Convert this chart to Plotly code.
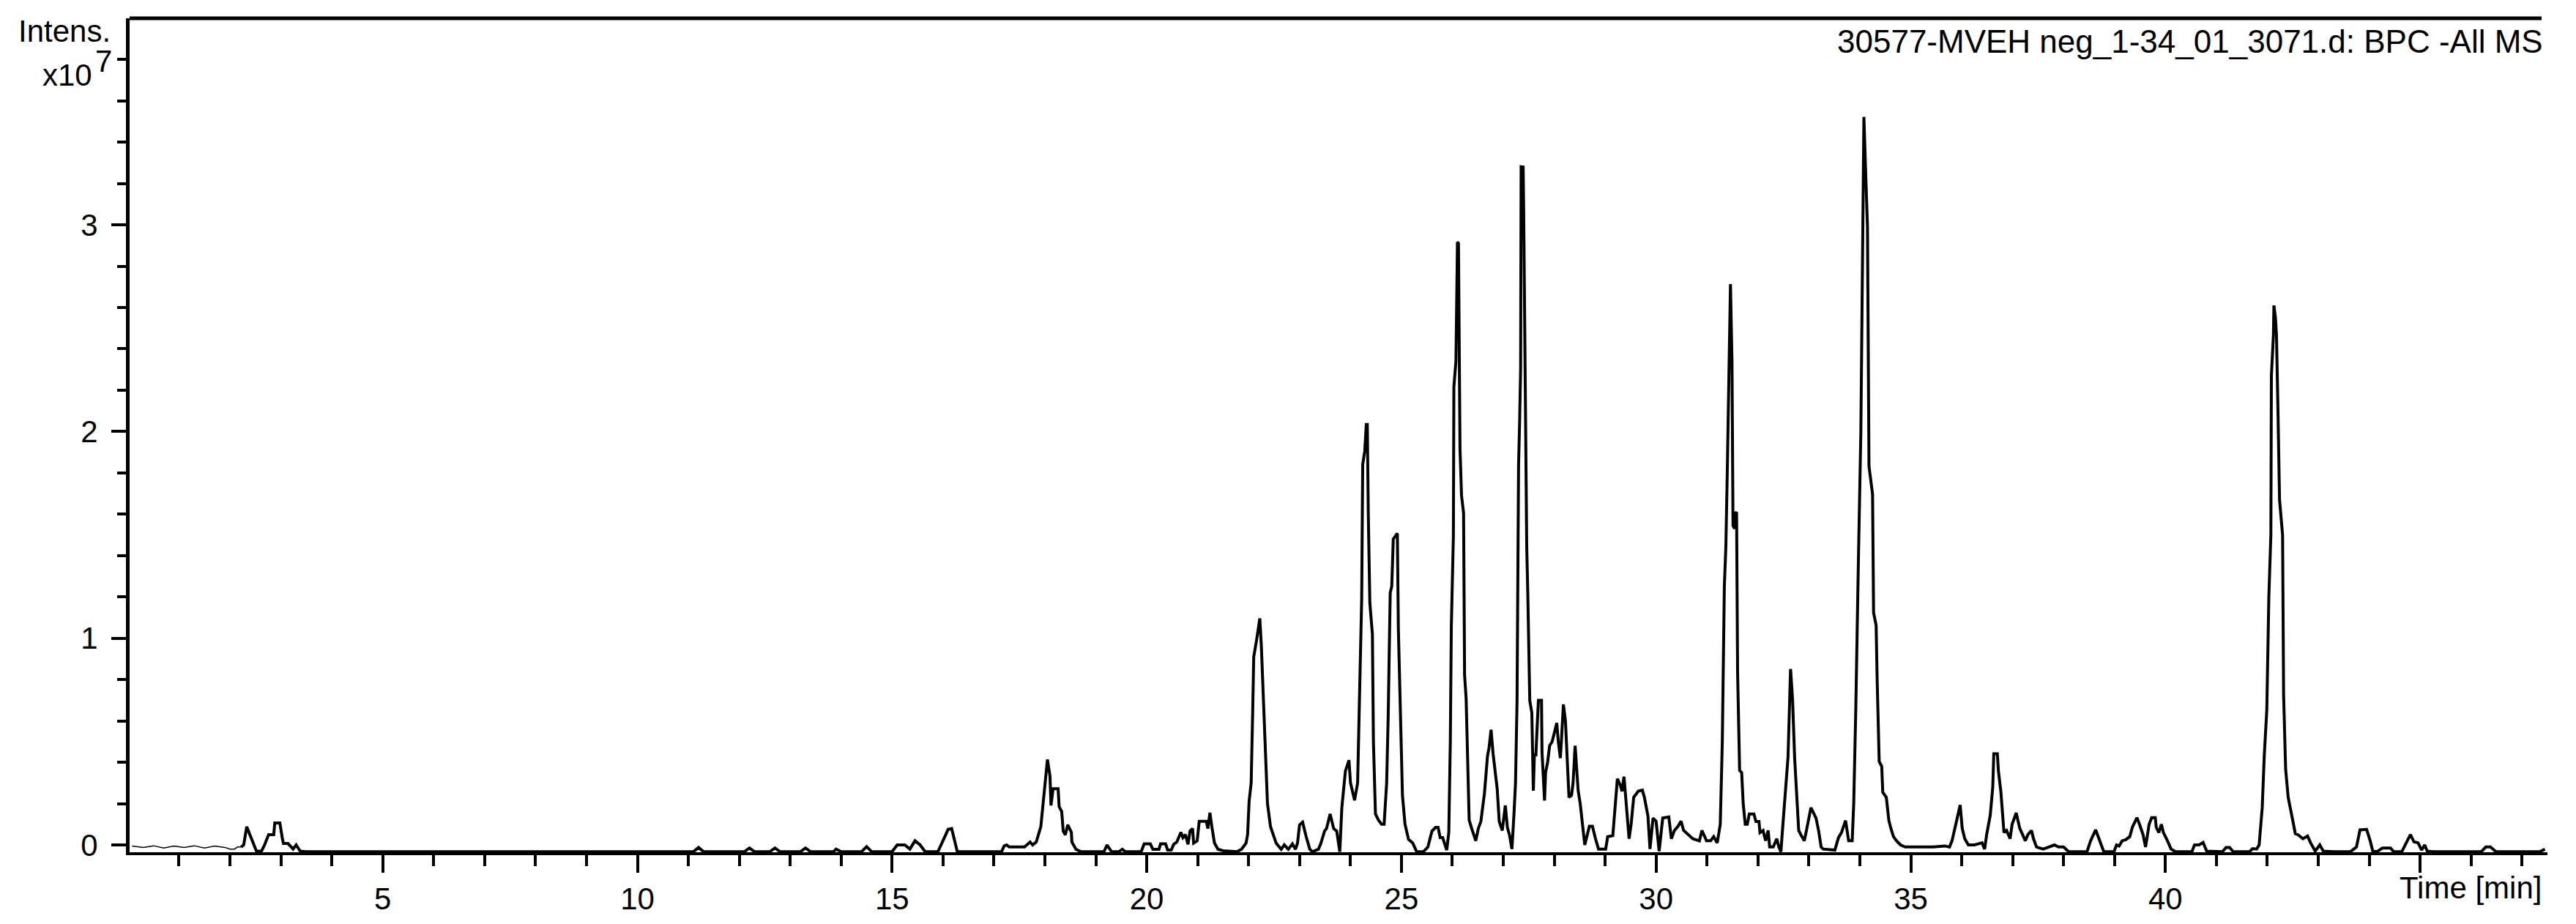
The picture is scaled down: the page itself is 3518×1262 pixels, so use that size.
import plotly.graph_objects as go

# Base peak chromatogram, intensity in units of 1e7, time in minutes
bpc_0_17 = [
    (0.08, -0.005), (0.3, -0.012), (0.5, -0.004), (0.7, -0.015), (0.9, -0.005), (1.1, -0.012),
    (1.3, -0.004), (1.5, -0.015), (1.7, -0.005), (1.9, -0.012), (2.0, -0.02), (2.09, -0.02),
    (2.15, -0.01), (2.22, -0.01), (2.27, 0.0), (2.33, 0.088), (2.42, 0.03), (2.52, -0.03),
    (2.62, -0.03), (2.68, 0.0), (2.76, 0.05), (2.86, 0.05), (2.88, 0.106), (2.98, 0.106),
    (3.03, 0.03), (3.05, 0.007), (3.14, 0.007), (3.24, -0.02), (3.30, 0.0), (3.38, -0.03),
    (3.5, -0.033), (11.1, -0.033), (11.2, -0.012), (11.3, -0.033), (12.1, -0.033), (12.2, -0.015),
    (12.3, -0.033), (12.6, -0.033), (12.7, -0.015), (12.8, -0.033), (13.2, -0.033), (13.3, -0.015),
    (13.4, -0.033), (13.85, -0.033), (13.9, -0.02), (14.0, -0.033), (14.4, -0.033), (14.5, -0.008),
    (14.6, -0.033), (15.0, -0.033), (15.1, 0.0), (15.25, 0.0), (15.35, -0.02), (15.45, 0.02),
    (15.55, 0.0), (15.65, -0.033), (15.9, -0.033), (16.0, 0.02), (16.1, 0.075), (16.17, 0.079),
    (16.28, -0.033), (17.15, -0.033),
]
bpc_17_26 = [
    (17.2, -0.005), (17.25, 0.0), (17.3, -0.01), (17.6, -0.01), (17.71, 0.014), (17.76, 0.0),
    (17.83, 0.014), (17.92, 0.088), (17.99, 0.274), (18.05, 0.413), (18.10, 0.333), (18.12, 0.191),
    (18.16, 0.272), (18.26, 0.272), (18.28, 0.185), (18.33, 0.162), (18.36, 0.067), (18.40, 0.049),
    (18.45, 0.097), (18.52, 0.061), (18.53, 0.014), (18.61, -0.021), (18.71, -0.033), (19.16, -0.033),
    (19.22, 0.0), (19.31, -0.033), (19.45, -0.033), (19.52, -0.021), (19.58, -0.033), (19.89, -0.033),
    (19.95, 0.005), (20.07, 0.005), (20.12, -0.021), (20.24, -0.021), (20.27, 0.005), (20.37, 0.005),
    (20.41, -0.025), (20.48, -0.025), (20.53, 0.003), (20.59, 0.014), (20.67, 0.061), (20.71, 0.035),
    (20.76, 0.05), (20.81, 0.003), (20.85, 0.067), (20.90, 0.079), (20.92, 0.009), (20.99, 0.02),
    (21.03, 0.114), (21.17, 0.114), (21.20, 0.079), (21.24, 0.156), (21.28, 0.085), (21.33, 0.009),
    (21.40, -0.021), (21.5, -0.028), (21.77, -0.033), (21.86, -0.021), (21.95, 0.009), (21.98, 0.05),
    (22.01, 0.212), (22.05, 0.30), (22.08, 0.648), (22.10, 0.909), (22.16, 0.997), (22.22, 1.096),
    (22.25, 0.96), (22.29, 0.71), (22.32, 0.437), (22.37, 0.2), (22.43, 0.088), (22.49, 0.05),
    (22.54, 0.009), (22.64, -0.021), (22.70, 0.0), (22.78, -0.021), (22.86, 0.005), (22.92, -0.021),
    (22.96, 0.009), (23.0, 0.097), (23.06, 0.11), (23.13, 0.04), (23.2, -0.02), (23.25, -0.033),
    (23.37, -0.021), (23.42, 0.009), (23.49, 0.067), (23.53, 0.079), (23.60, 0.15), (23.67, 0.079),
    (23.73, 0.067), (23.79, -0.033), (23.83, 0.18), (23.90, 0.357), (23.97, 0.41), (24.0, 0.30),
    (24.08, 0.216), (24.14, 0.30), (24.18, 0.82), (24.22, 1.195), (24.24, 1.84), (24.28, 1.905),
    (24.31, 2.034), (24.33, 2.034), (24.35, 1.594), (24.38, 1.17), (24.43, 1.02), (24.45, 0.50),
    (24.49, 0.15), (24.55, 0.12), (24.61, 0.10), (24.66, 0.10), (24.71, 0.30), (24.74, 0.62),
    (24.78, 1.22), (24.81, 1.25), (24.84, 1.48), (24.92, 1.507), (24.94, 1.046), (24.99, 0.60),
    (25.02, 0.24), (25.07, 0.10), (25.14, 0.027), (25.22, 0.01), (25.3, -0.033), (25.43, -0.033),
    (25.52, -0.01), (25.60, 0.067), (25.67, 0.085), (25.72, 0.085), (25.76, 0.035), (25.81, 0.035),
    (25.85, 0.0), (25.89, -0.025), (25.93, 0.06), (25.96, 0.50),
]
bpc_26_33 = [
    (25.98, 1.06), (26.02, 1.495), (26.03, 2.216), (26.07, 2.34), (26.10, 2.917), (26.12, 2.91),
    (26.15, 1.917), (26.18, 1.69), (26.22, 1.606), (26.24, 0.82), (26.27, 0.71), (26.30, 0.38),
    (26.33, 0.12), (26.38, 0.079), (26.46, 0.02), (26.51, 0.08), (26.56, 0.114), (26.63, 0.25),
    (26.69, 0.43), (26.72, 0.47), (26.76, 0.557), (26.80, 0.44), (26.84, 0.36), (26.88, 0.272),
    (26.92, 0.114), (26.98, 0.07), (27.04, 0.191), (27.08, 0.085), (27.12, 0.05), (27.17, -0.02),
    (27.21, 0.15), (27.24, 0.30), (27.27, 0.698), (27.30, 1.84), (27.32, 2.04), (27.34, 2.3),
    (27.35, 3.281), (27.39, 3.28), (27.40, 3.075), (27.42, 2.39), (27.44, 2.09), (27.46, 1.445),
    (27.48, 1.23), (27.52, 0.698), (27.56, 0.64), (27.59, 0.262), (27.61, 0.436), (27.64, 0.436),
    (27.67, 0.60), (27.69, 0.70), (27.75, 0.70), (27.76, 0.45), (27.81, 0.215), (27.83, 0.35),
    (27.87, 0.40), (27.91, 0.48), (27.96, 0.50), (28.0, 0.536), (28.05, 0.59), (28.08, 0.50),
    (28.12, 0.42), (28.14, 0.50), (28.18, 0.68), (28.22, 0.60), (28.26, 0.42), (28.29, 0.23),
    (28.34, 0.24), (28.37, 0.30), (28.41, 0.48), (28.47, 0.262), (28.51, 0.2), (28.55, 0.10),
    (28.60, 0.0), (28.69, 0.09), (28.75, 0.09), (28.81, 0.03), (28.87, -0.02), (29.01, -0.02),
    (29.05, 0.04), (29.15, 0.045), (29.2, 0.19), (29.24, 0.32), (29.30, 0.287), (29.33, 0.26),
    (29.37, 0.33), (29.42, 0.157), (29.47, 0.03), (29.51, 0.1), (29.56, 0.23), (29.65, 0.26),
    (29.73, 0.265), (29.77, 0.23), (29.84, 0.14), (29.88, -0.02), (29.94, 0.13), (30.00, 0.115),
    (30.06, -0.03), (30.13, 0.13), (30.25, 0.135), (30.30, 0.03), (30.36, 0.07), (30.43, 0.09),
    (30.49, 0.115), (30.54, 0.07), (30.62, 0.05), (30.72, 0.03), (30.85, 0.02), (30.90, 0.07),
    (30.99, 0.02), (31.07, 0.02), (31.13, 0.04), (31.2, 0.01), (31.26, 0.10), (31.30, 0.50),
    (31.34, 1.25), (31.37, 1.445), (31.40, 1.84), (31.42, 2.166), (31.46, 2.713), (31.49, 2.34),
    (31.51, 1.545), (31.54, 1.53), (31.56, 1.606), (31.58, 1.61), (31.60, 0.836), (31.64, 0.361),
    (31.68, 0.35), (31.71, 0.2), (31.75, 0.10), (31.79, 0.10), (31.83, 0.15), (31.92, 0.15),
    (31.96, 0.113), (32.02, 0.113), (32.04, 0.06), (32.10, 0.07), (32.15, 0.02), (32.2, 0.07),
    (32.23, -0.01), (32.30, -0.01), (32.37, 0.03), (32.41, -0.01), (32.45, -0.033), (32.49, 0.10),
    (32.55, 0.30), (32.59, 0.424), (32.64, 0.851), (32.68, 0.70), (32.72, 0.42), (32.76, 0.26),
    (32.80, 0.07), (32.84, 0.05), (32.91, 0.02),
]
bpc_33_48 = [
    (32.96, 0.08), (33.04, 0.18), (33.10, 0.15), (33.14, 0.13), (33.19, 0.07), (33.24, -0.01),
    (33.28, -0.02), (33.51, -0.025), (33.58, 0.035), (33.64, 0.06), (33.72, 0.118), (33.78, 0.02),
    (33.85, 0.02), (33.88, 0.20), (33.92, 0.65), (33.95, 1.0), (33.97, 1.35), (34.02, 1.995),
    (34.04, 2.665), (34.06, 3.038), (34.08, 3.522), (34.11, 3.287), (34.15, 2.99), (34.18, 1.832),
    (34.25, 1.697), (34.27, 1.124), (34.32, 1.062), (34.34, 0.80), (34.38, 0.404), (34.43, 0.38),
    (34.45, 0.255), (34.52, 0.23), (34.57, 0.118), (34.61, 0.08), (34.66, 0.04), (34.72, 0.02),
    (34.80, 0.0), (34.89, -0.01), (35.44, -0.01), (35.67, -0.005), (35.76, -0.01), (35.81, 0.02),
    (35.85, 0.06), (35.92, 0.143), (35.97, 0.193), (36.01, 0.08), (36.06, 0.03), (36.13, 0.0),
    (36.25, 0.0), (36.40, 0.01), (36.45, -0.02), (36.49, 0.05), (36.56, 0.143), (36.61, 0.28),
    (36.63, 0.441), (36.70, 0.441), (36.72, 0.36), (36.77, 0.255), (36.80, 0.155), (36.83, 0.06),
    (36.88, 0.07), (36.95, 0.03), (36.99, 0.1), (37.07, 0.155), (37.14, 0.08), (37.20, 0.05),
    (37.25, 0.02), (37.30, 0.05), (37.37, 0.07), (37.41, 0.03), (37.47, -0.01), (37.6, -0.02),
    (37.73, -0.01), (37.82, 0.0), (37.9, -0.01), (38.0, -0.01), (38.10, -0.033), (38.46, -0.033),
    (38.53, 0.02), (38.63, 0.073), (38.68, 0.04), (38.72, 0.01), (38.79, -0.033), (38.99, -0.033),
    (39.04, 0.0), (39.09, -0.005), (39.15, 0.02), (39.22, 0.025), (39.30, 0.04), (39.35, 0.085),
    (39.44, 0.132), (39.49, 0.1), (39.56, 0.05), (39.61, -0.01), (39.68, 0.1), (39.73, 0.132),
    (39.80, 0.132), (39.82, 0.085), (39.87, 0.06), (39.92, 0.1), (39.96, 0.06), (40.04, 0.02),
    (40.11, -0.02), (40.2, -0.033), (40.52, -0.033), (40.57, 0.0), (40.66, 0.0), (40.74, 0.012),
    (40.81, -0.03), (41.12, -0.033), (41.19, -0.012), (41.26, -0.012), (41.33, -0.033), (41.65, -0.033),
    (41.71, -0.018), (41.79, -0.02), (41.84, 0.0), (41.90, 0.18), (41.94, 0.43), (41.99, 0.652),
    (42.03, 1.2), (42.07, 1.5), (42.08, 2.27), (42.12, 2.466), (42.13, 2.61), (42.16, 2.55),
    (42.18, 2.466), (42.21, 2.094), (42.24, 1.67), (42.30, 1.5), (42.32, 0.725), (42.36, 0.366),
    (42.41, 0.23), (42.48, 0.143), (42.55, 0.055), (42.60, 0.05), (42.64, 0.04), (42.70, 0.03),
    (42.79, 0.043), (42.85, 0.01), (42.94, -0.03), (43.03, 0.0), (43.1, -0.03), (43.30, -0.033),
    (43.63, -0.033), (43.75, -0.01), (43.82, 0.073), (43.95, 0.075), (44.02, 0.02), (44.07, -0.03),
    (44.15, -0.033), (44.26, -0.015), (44.42, -0.015), (44.48, -0.033), (44.64, -0.033), (44.71, 0.0),
    (44.81, 0.05), (44.88, 0.015), (44.96, 0.01), (45.03, -0.025), (45.09, 0.0), (45.14, -0.03),
    (45.25, -0.033), (46.2, -0.033), (46.29, -0.01), (46.38, -0.01), (46.49, -0.033), (47.35, -0.033),
    (47.45, -0.02),
]

x_major_ticks = [5, 10, 15, 20, 25, 30, 35, 40, 45]
x_tick_labels = ["5", "10", "15", "20", "25", "30", "35", "40", ""]
y_major_ticks = [0, 1, 2, 3]
y_tick_labels = ["0", "1", "2", "3"]

title_text = "30577-MVEH neg_1-34_01_3071.d: BPC -All MS"
faint_start_end = 2.22  # the trace is drawn hairline-thin before this time

points = bpc_0_17 + bpc_17_26 + bpc_26_33 + bpc_33_48
faint = [p for p in points if p[0] <= faint_start_end]
main = [p for p in points if p[0] >= faint_start_end]

W, H = 3518, 1262
L, R, T, B = 177, 3479, 25, 1164
FONT = "Liberation Sans, Arial, sans-serif"


def px_x(p):
    return (p - L) / (R - L)


def px_y(p):
    return (B - p) / (B - T)


fig = go.Figure()
fig.add_trace(go.Scatter(x=[p[0] for p in faint], y=[p[1] for p in faint], mode="lines",
                         line=dict(color="black", width=1.5), hoverinfo="skip"))
fig.add_trace(go.Scatter(x=[p[0] for p in main], y=[p[1] for p in main], mode="lines",
                         line=dict(color="black", width=4), hoverinfo="skip"))

fig.update_layout(
    width=W, height=H,
    margin=dict(l=L, r=W - R, t=T, b=H - B, pad=0),
    paper_bgcolor="white", plot_bgcolor="white",
    showlegend=False,
    font=dict(family=FONT, size=42, color="black"),
)
fig.update_xaxes(
    range=[0.03, 47.5], showgrid=False, zeroline=False,
    showline=True, linecolor="black", linewidth=4,
    ticks="outside", ticklen=24, tickwidth=4, tickcolor="black",
    tickvals=x_major_ticks, ticktext=x_tick_labels,
    tickfont=dict(family=FONT, size=42, color="black"),
    minor=dict(dtick=1, tick0=0, ticks="outside", ticklen=15, tickwidth=4, tickcolor="black"),
)
fig.update_yaxes(
    range=[-0.0354, 3.999], showgrid=False, zeroline=False,
    showline=True, linecolor="black", linewidth=5,
    ticks="outside", ticklen=20, tickwidth=4, tickcolor="black",
    tickvals=y_major_ticks, ticktext=y_tick_labels,
    tickfont=dict(family=FONT, size=42, color="black"),
    ticklabelstandoff=10,
    minor=dict(dtick=0.2, tick0=0, ticks="outside", ticklen=12, tickwidth=4, tickcolor="black"),
)

# top frame line
fig.add_shape(type="line", xref="paper", yref="paper",
              x0=0, x1=px_x(3471), y0=1, y1=1,
              line=dict(color="black", width=5))


def label(text, cx, cy, size=42):
    fig.add_annotation(text=text, xref="paper", yref="paper",
                       x=px_x(cx), y=px_y(cy), xanchor="center", yanchor="middle",
                       showarrow=False, font=dict(family=FONT, size=size, color="black"))


label("Intens.", 88, 43)
label("x10", 92, 103)
label("7", 141, 83)
label(title_text, 2991, 56, size=44)
label("Time [min]", 3374, 1212)

fig.write_html("out.html",
               config={"displayModeBar": False, "staticPlot": True},
               post_script="document.body.style.margin='0px';document.body.style.overflow='hidden';")
